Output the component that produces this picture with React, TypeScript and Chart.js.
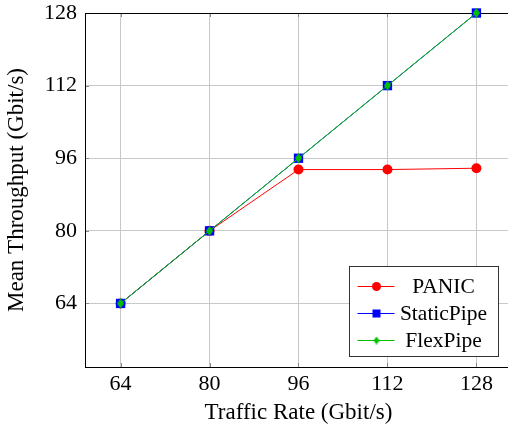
import React, { useEffect, useRef } from 'react';
import { Chart, registerables } from 'chart.js';

Chart.register(...registerables);

const rates = [64, 80, 96, 112, 128];
const panic = [64, 80, 93.5, 93.5, 93.8];
const staticPipe = [64, 80, 96, 112, 128];
const flexPipe = [64, 80, 96, 112, 128];
const xTicks = [64, 80, 96, 112, 128];
const yTicks = [64, 80, 96, 112, 128];
const seriesNames = ['PANIC', 'StaticPipe', 'FlexPipe'];

const FONT = '"Liberation Serif", "Times New Roman", serif';

function makeDiamond(w: number, h: number, color: string) {
  const c = document.createElement('canvas');
  c.width = w;
  c.height = h;
  const g = c.getContext('2d')!;
  g.fillStyle = color;
  g.beginPath();
  g.moveTo(w / 2, 0);
  g.lineTo(w, h / 2);
  g.lineTo(w / 2, h);
  g.lineTo(0, h / 2);
  g.closePath();
  g.fill();
  return c;
}

export default function App() {
  const ref = useRef<HTMLCanvasElement | null>(null);

  useEffect(() => {
    if (!ref.current) return;
    const green = '#00c000';
    const diamond = makeDiamond(7, 10, green);
    const legendDiamond = makeDiamond(6, 8, green);

    const toPts = (arr: number[]) => rates.map((x, i) => ({ x, y: arr[i] }));

    const framePlugin = {
      id: 'frame',
      beforeDatasetsDraw(chart: any) {
        const { ctx, chartArea: a, scales } = chart;
        ctx.save();
        ctx.strokeStyle = '#8a8a8a';
        ctx.lineWidth = 1;
        xTicks.forEach((v) => {
          const x = Math.round(scales.x.getPixelForValue(v)) + 0.5;
          ctx.beginPath();
          ctx.moveTo(x, a.top);
          ctx.lineTo(x, a.top + 4);
          ctx.moveTo(x, a.bottom - 4);
          ctx.lineTo(x, a.bottom);
          ctx.stroke();
        });
        yTicks.forEach((v) => {
          const y = Math.round(scales.y.getPixelForValue(v)) + 0.5;
          ctx.beginPath();
          ctx.moveTo(a.left, y);
          ctx.lineTo(a.left + 4, y);
          ctx.moveTo(a.right - 4, y);
          ctx.lineTo(a.right, y);
          ctx.stroke();
        });
        ctx.strokeStyle = '#000';
        ctx.strokeRect(
          Math.round(a.left) + 0.5,
          Math.round(a.top) + 0.5,
          Math.round(a.right - a.left),
          Math.round(a.bottom - a.top)
        );
        ctx.restore();
      },
      afterDraw(chart: any) {
        const { ctx } = chart;
        const bw = 149;
        const bh = 90;
        const bx = 349.5;
        const by = 266.5;
        ctx.save();
        ctx.fillStyle = '#fff';
        ctx.fillRect(bx, by, bw, bh);
        ctx.strokeStyle = '#333';
        ctx.lineWidth = 1;
        ctx.strokeRect(bx, by, bw, bh);
        const ds = chart.data.datasets;
        const rowY = [19, 46, 73];
        [0, 1, 2].forEach((i) => {
          const d = ds[i];
          const y = Math.round(by + rowY[i]) + 0.5;
          const lx0 = bx + 8;
          const lx1 = bx + 45;
          const mx = bx + 27;
          ctx.strokeStyle = d.borderColor;
          ctx.lineWidth = 1;
          ctx.beginPath();
          ctx.moveTo(lx0, y);
          ctx.lineTo(lx1, y);
          ctx.stroke();
          ctx.fillStyle = d.backgroundColor;
          if (i === 0) {
            ctx.beginPath();
            ctx.arc(mx, y, 4.5, 0, Math.PI * 2);
            ctx.fill();
          } else if (i === 1) {
            ctx.fillRect(mx - 4, y - 4, 8, 8);
          } else {
            ctx.drawImage(legendDiamond, mx - 3, y - 4);
          }
          ctx.fillStyle = '#000';
          ctx.font = '21.5px ' + FONT;
          ctx.textAlign = 'center';
          ctx.textBaseline = 'middle';
          ctx.fillText(d.label, bx + 94, y + 1);
        });
        ctx.restore();
      },
    };

    const chart = new Chart(ref.current, {
      type: 'line',
      data: {
        datasets: [
          {
            label: seriesNames[0],
            data: toPts(panic),
            borderColor: '#ff0000',
            backgroundColor: '#ff0000',
            borderWidth: 1,
            pointStyle: 'circle',
            pointRadius: 5,
            pointBorderWidth: 0,
            order: 3,
            clip: false as any,
          },
          {
            label: seriesNames[1],
            data: toPts(staticPipe),
            borderColor: '#0000ff',
            backgroundColor: '#0000ff',
            borderWidth: 1,
            pointStyle: 'rect',
            pointRadius: 6.6,
            pointBorderWidth: 0,
            order: 2,
            clip: false as any,
          },
          {
            label: seriesNames[2],
            data: toPts(flexPipe),
            borderColor: green,
            backgroundColor: green,
            borderWidth: 1,
            pointStyle: diamond as any,
            pointRadius: 5,
            order: 1,
            clip: false as any,
          },
        ],
      },
      options: {
        animation: false,
        responsive: false,
        events: [],
        layout: { padding: { left: 0, right: 8, top: 13, bottom: 0 } },
        plugins: {
          legend: { display: false },
          tooltip: { enabled: false },
        },
        scales: {
          x: {
            type: 'linear',
            min: 57.6,
            max: 134.4,
            afterBuildTicks: (s: any) => {
              s.ticks = xTicks.map((v) => ({ value: v }));
            },
            afterFit: (s: any) => {
              s.height = 65;
              s.paddingLeft = 0;
              s.paddingRight = 0;
              s.paddingTop = 0;
              s.paddingBottom = 0;
            },
            grid: { color: '#c8c8c8', drawTicks: false, lineWidth: 1 },
            border: { display: false },
            ticks: {
              color: '#000',
              font: { family: FONT, size: 22 },
              padding: 4,
              maxRotation: 0,
              autoSkip: false,
              callback: (v: any) => String(v),
            },
            title: {
              display: true,
              text: 'Traffic Rate (Gbit/s)',
              color: '#000',
              font: { family: FONT, size: 23 },
              padding: { top: 5, bottom: 5 },
            },
          },
          y: {
            type: 'linear',
            min: 50,
            max: 128,
            afterBuildTicks: (s: any) => {
              s.ticks = yTicks.map((v) => ({ value: v }));
            },
            afterFit: (s: any) => {
              s.width = 85;
              s.paddingLeft = 0;
              s.paddingRight = 0;
              s.paddingTop = 0;
              s.paddingBottom = 0;
            },
            grid: { color: '#c8c8c8', drawTicks: false, lineWidth: 1 },
            border: { display: false },
            ticks: {
              color: '#000',
              font: { family: FONT, size: 22 },
              padding: 8,
              callback: (v: any) => String(v),
            },
            title: {
              display: true,
              text: 'Mean Throughput (Gbit/s)',
              color: '#000',
              font: { family: FONT, size: 23 },
              padding: { top: 3, bottom: 0 },
            },
          },
        },
      },
      plugins: [framePlugin],
    });

    return () => chart.destroy();
  }, []);

  return (
    <div
      style={{
        position: 'absolute',
        left: 0,
        top: 0,
        width: 508,
        height: 432,
        overflow: 'hidden',
        background: '#fff',
      }}
    >
      <canvas ref={ref} width={520} height={432} style={{ display: 'block' }} />
    </div>
  );
}
